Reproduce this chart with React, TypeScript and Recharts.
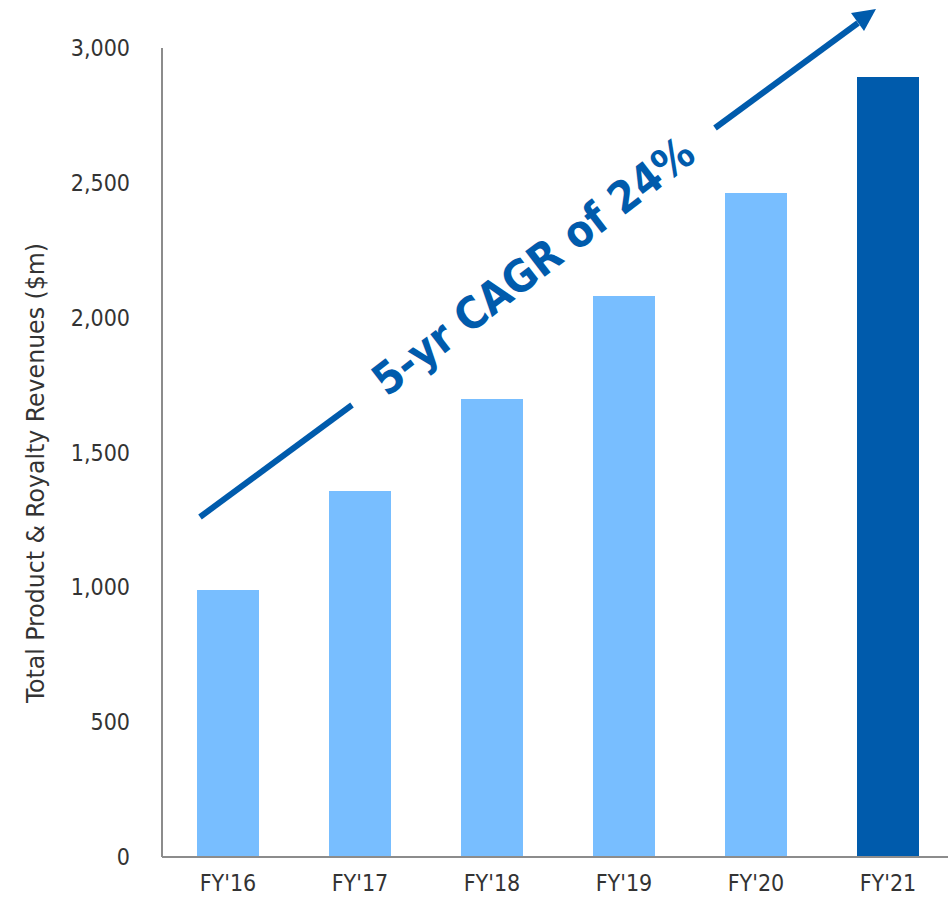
import React from 'react';
import { BarChart, Bar, XAxis, YAxis, Cell } from 'recharts';

const years = ["FY'16", "FY'17", "FY'18", "FY'19", "FY'20", "FY'21"];
const revenues = [990, 1357, 1698, 2080, 2462, 2892];
const yTicks = [0, 500, 1000, 1500, 2000, 2500, 3000];

const data = years.map((year, i) => ({ year, revenue: revenues[i] }));

const LIGHT = '#78BEFF';
const DARK = '#005BAC';
const FONT = '"DejaVu Sans Condensed", "DejaVu Sans", sans-serif';

const App: React.FC = () => {
    return (
        <div style={{ position: 'absolute', left: 0, top: 0, width: 948, height: 901, overflow: 'hidden', background: '#fff' }}>
            <BarChart
                width={954}
                height={901}
                data={data}
                margin={{ top: 48, right: 0, left: 0, bottom: 14 }}
            >
                <XAxis
                    dataKey="year"
                    height={30}
                    axisLine={{ stroke: '#8c8c8c', strokeWidth: 2 }}
                    tickLine={false}
                    tickSize={0}
                    tickMargin={18}
                    tick={{ fill: '#333', fontSize: 23, fontFamily: FONT }}
                />
                <YAxis
                    width={162}
                    domain={[0, 3000]}
                    ticks={yTicks}
                    axisLine={{ stroke: '#8c8c8c', strokeWidth: 2 }}
                    tickLine={false}
                    tickSize={0}
                    tickMargin={32}
                    tickFormatter={(v: number) => v.toLocaleString('en-US')}
                    tick={{ fill: '#333', fontSize: 23, fontFamily: FONT }}
                />
                <Bar dataKey="revenue" barSize={62} isAnimationActive={false}>
                    {data.map((d, i) => (
                        <Cell key={d.year} fill={i === data.length - 1 ? DARK : LIGHT} />
                    ))}
                </Bar>
            </BarChart>
            {/* annotations: axis title and CAGR arrow */}
            <svg width={948} height={901} style={{ position: 'absolute', left: 0, top: 0, pointerEvents: 'none' }}>
                <text
                    x={0}
                    y={0}
                    transform="translate(36,473) rotate(-90)"
                    textAnchor="middle"
                    dominantBaseline="central"
                    fill="#333"
                    fontSize={24}
                    fontFamily={FONT}
                    textLength={460}
                    lengthAdjust="spacingAndGlyphs"
                >
                    Total Product &amp; Royalty Revenues ($m)
                </text>
                <line x1={200} y1={517} x2={352} y2={405} stroke={DARK} strokeWidth={6} />
                <line x1={715} y1={128} x2={858} y2={23} stroke={DARK} strokeWidth={6} />
                <polygon points="876,9 864,31 851,13" fill={DARK} />
                <text
                    x={0}
                    y={0}
                    transform="translate(533,266) rotate(-37.5)"
                    textAnchor="middle"
                    dominantBaseline="central"
                    fill={DARK}
                    fontSize={44}
                    fontWeight="bold"
                    fontFamily={FONT}
                    textLength={392}
                    lengthAdjust="spacingAndGlyphs"
                >
                    5-yr CAGR of 24%
                </text>
            </svg>
        </div>
    );
};

export default App;
